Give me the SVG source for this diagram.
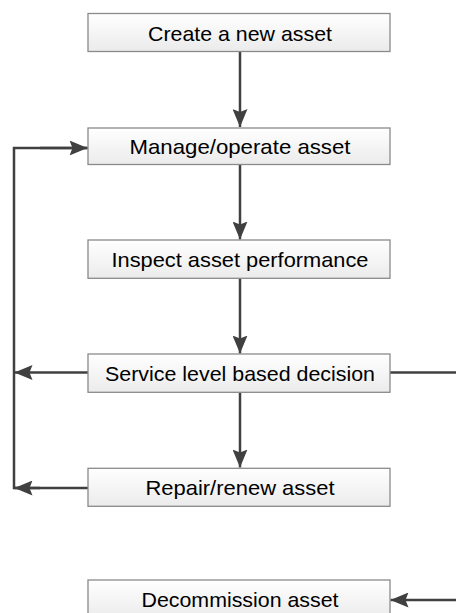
<svg xmlns="http://www.w3.org/2000/svg" width="456" height="613" viewBox="0 0 456 613">
<defs>
<linearGradient id="g" x1="0" y1="0" x2="0" y2="1">
<stop offset="0" stop-color="#ffffff"/>
<stop offset="1" stop-color="#ebebeb"/>
</linearGradient>
<marker id="ah" viewBox="0 0 18 15" refX="18" refY="7.5" markerWidth="18" markerHeight="15" markerUnits="userSpaceOnUse" orient="auto">
<path d="M0,0 L18,7.5 L0,15 L3,7.5 Z" fill="#404040"/>
</marker>
<style>
.box{fill:url(#g);stroke:#8a8a8a;stroke-width:1.3}
.lbl{font-family:"Liberation Sans",Arial,sans-serif;font-size:21px;fill:#000;text-anchor:middle}
.c{fill:none;stroke:#404040;stroke-width:2.5}
</style>
</defs>
<g id="connectors">
<path class="c" d="M240,52 V127" marker-end="url(#ah)"/>
<path class="c" d="M240,165 V239.5" marker-end="url(#ah)"/>
<path class="c" d="M240,278.5 V353.5" marker-end="url(#ah)"/>
<path class="c" d="M240,392.5 V467.5" marker-end="url(#ah)"/>
<path class="c" d="M88,372.5 H14.5" marker-end="url(#ah)"/>
<path class="c" d="M88,488 H14 V148 H87.5"/>
<path class="c" d="M40,148 H87.5" marker-end="url(#ah)"/>
<path class="c" d="M40,488 H14.5" marker-end="url(#ah)"/>
<path class="c" d="M390,372.5 H456"/>
<path class="c" d="M456,600 H390.5" marker-end="url(#ah)"/>
</g>
<g id="create">
<rect class="box" x="88" y="13.5" width="302" height="38"/>
<text class="lbl" x="240" y="40.5" textLength="184" lengthAdjust="spacingAndGlyphs">Create a new asset</text>
</g>
<g id="manage">
<rect class="box" x="88" y="128" width="302" height="36.5"/>
<text class="lbl" x="240" y="154" textLength="221" lengthAdjust="spacingAndGlyphs">Manage/operate asset</text>
</g>
<g id="inspect">
<rect class="box" x="88" y="240" width="302" height="38.3"/>
<text class="lbl" x="240" y="266.5" textLength="257" lengthAdjust="spacingAndGlyphs">Inspect asset performance</text>
</g>
<g id="decision">
<rect class="box" x="88" y="354" width="302" height="38.3"/>
<text class="lbl" x="240" y="380.5" textLength="270" lengthAdjust="spacingAndGlyphs">Service level based decision</text>
</g>
<g id="repair">
<rect class="box" x="88" y="468.3" width="302" height="38"/>
<text class="lbl" x="240" y="495" textLength="189" lengthAdjust="spacingAndGlyphs">Repair/renew asset</text>
</g>
<g id="decommission">
<rect class="box" x="88" y="580" width="302" height="38"/>
<text class="lbl" x="240" y="607" textLength="197" lengthAdjust="spacingAndGlyphs">Decommission asset</text>
</g>
</svg>
